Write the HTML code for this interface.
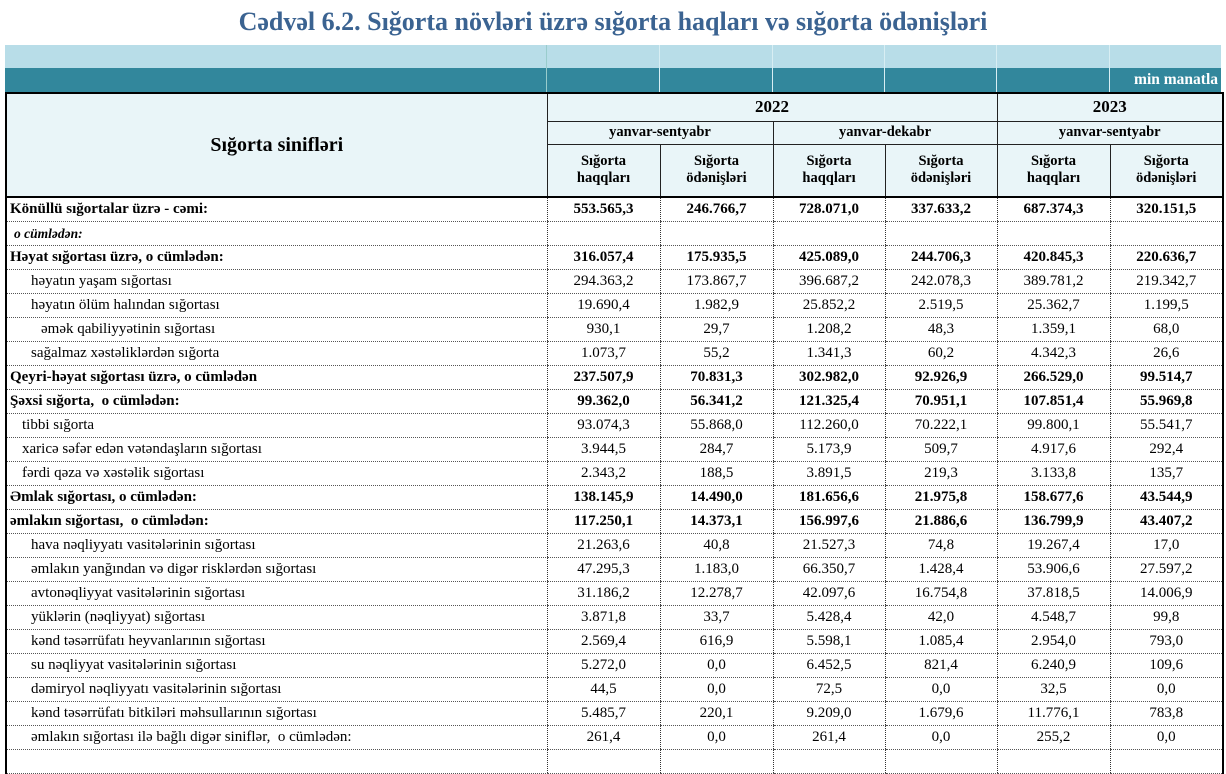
<!DOCTYPE html>
<html><head><meta charset="utf-8"><style>
body{margin:0;width:1226px;height:753px;overflow:hidden;background:#fff;font-family:"Liberation Serif",serif;position:relative}
.title{position:absolute;left:0;top:0;width:1226px;height:44px;text-align:center;font-weight:bold;font-size:26px;line-height:44px;color:#3b6391;}
.lb{position:absolute;left:5px;top:45px;width:1216px;height:23px;background:#b8dde8}
.tl{position:absolute;left:5px;top:68px;width:1216px;height:24px;background:#32879c;color:#fff;font-weight:bold;font-size:15.5px}
.vl{position:absolute;width:1px;background:#d8eef3}
table{position:absolute;left:5px;top:92px;border-collapse:collapse;table-layout:fixed;width:1217px;font-size:15px}
td{padding:0 3px;overflow:hidden;white-space:nowrap;border-left:1px dotted #333;border-bottom:1px dotted #555}
thead td{background:#e9f5f8;border:1px solid #222;text-align:center;font-weight:bold;font-size:14.5px}
tbody td{height:23px;text-align:center}
tbody td:first-child{text-align:left;border-left:2px solid #000}
tbody td:last-child{border-right:2px solid #000}
.b td{font-weight:bold}
.i1 td:first-child{padding-left:15px}
.i2 td:first-child{padding-left:24px}
.i3 td:first-child{padding-left:34px}
</style></head><body>
<div class="title">Cədvəl 6.2. Sığorta növləri üzrə sığorta haqları və sığorta ödənişləri</div>
<div class="lb"></div>
<div class="tl"><span style="position:absolute;right:3px;top:3px">min manatla</span></div>
<div class="vl" style="left:546px;top:45px;height:47px;background:#9cc"></div>
<div class="vl" style="left:659px;top:45px;height:47px"></div>
<div class="vl" style="left:772px;top:45px;height:47px"></div>
<div class="vl" style="left:884px;top:45px;height:47px"></div>
<div class="vl" style="left:996px;top:45px;height:47px"></div>
<div class="vl" style="left:1109px;top:45px;height:47px"></div>
<table>
<colgroup><col style="width:541px"><col style="width:113px"><col style="width:113px"><col style="width:112px"><col style="width:112px"><col style="width:113px"><col style="width:113px"></colgroup>
<thead>
<tr style="height:28px;border-top:2px solid #000"><td rowspan="3" style="font-size:20px;border-left:2px solid #000">Sığorta sinifləri</td><td colspan="4" style="font-size:17px">2022</td><td colspan="2" style="font-size:17px;border-right:2px solid #000">2023</td></tr>
<tr style="height:23px"><td colspan="2">yanvar-sentyabr</td><td colspan="2">yanvar-dekabr</td><td colspan="2" style="border-right:2px solid #000">yanvar-sentyabr</td></tr>
<tr style="height:53px;border-bottom:2px solid #000"><td>Sığorta<br>haqqları</td><td>Sığorta<br>ödənişləri</td><td>Sığorta<br>haqqları</td><td>Sığorta<br>ödənişləri</td><td>Sığorta<br>haqqları</td><td style="border-right:2px solid #000">Sığorta<br>ödənişləri</td></tr>
</thead>
<tbody>
<tr class="b"><td>Könüllü sığortalar üzrə - cəmi:</td><td>553.565,3</td><td>246.766,7</td><td>728.071,0</td><td>337.633,2</td><td>687.374,3</td><td>320.151,5</td></tr>
<tr><td style="font-style:italic;font-weight:bold;font-size:13.5px;padding-left:7px">o cümlədən:</td><td></td><td></td><td></td><td></td><td></td><td></td></tr>
<tr class="b"><td>Həyat sığortası üzrə, o cümlədən:</td><td>316.057,4</td><td>175.935,5</td><td>425.089,0</td><td>244.706,3</td><td>420.845,3</td><td>220.636,7</td></tr>
<tr class="i2"><td>həyatın yaşam sığortası</td><td>294.363,2</td><td>173.867,7</td><td>396.687,2</td><td>242.078,3</td><td>389.781,2</td><td>219.342,7</td></tr>
<tr class="i2"><td>həyatın ölüm halından sığortası</td><td>19.690,4</td><td>1.982,9</td><td>25.852,2</td><td>2.519,5</td><td>25.362,7</td><td>1.199,5</td></tr>
<tr class="i3"><td>əmək qabiliyyətinin sığortası</td><td>930,1</td><td>29,7</td><td>1.208,2</td><td>48,3</td><td>1.359,1</td><td>68,0</td></tr>
<tr class="i2"><td>sağalmaz xəstəliklərdən sığorta</td><td>1.073,7</td><td>55,2</td><td>1.341,3</td><td>60,2</td><td>4.342,3</td><td>26,6</td></tr>
<tr class="b"><td>Qeyri-həyat sığortası üzrə, o cümlədən</td><td>237.507,9</td><td>70.831,3</td><td>302.982,0</td><td>92.926,9</td><td>266.529,0</td><td>99.514,7</td></tr>
<tr class="b"><td>Şəxsi sığorta,&nbsp; o cümlədən:</td><td>99.362,0</td><td>56.341,2</td><td>121.325,4</td><td>70.951,1</td><td>107.851,4</td><td>55.969,8</td></tr>
<tr class="i1"><td>tibbi sığorta</td><td>93.074,3</td><td>55.868,0</td><td>112.260,0</td><td>70.222,1</td><td>99.800,1</td><td>55.541,7</td></tr>
<tr class="i1"><td>xaricə səfər edən vətəndaşların sığortası</td><td>3.944,5</td><td>284,7</td><td>5.173,9</td><td>509,7</td><td>4.917,6</td><td>292,4</td></tr>
<tr class="i1"><td>fərdi qəza və xəstəlik sığortası</td><td>2.343,2</td><td>188,5</td><td>3.891,5</td><td>219,3</td><td>3.133,8</td><td>135,7</td></tr>
<tr class="b"><td>Əmlak sığortası, o cümlədən:</td><td>138.145,9</td><td>14.490,0</td><td>181.656,6</td><td>21.975,8</td><td>158.677,6</td><td>43.544,9</td></tr>
<tr class="b"><td>əmlakın sığortası,&nbsp; o cümlədən:</td><td>117.250,1</td><td>14.373,1</td><td>156.997,6</td><td>21.886,6</td><td>136.799,9</td><td>43.407,2</td></tr>
<tr class="i2"><td>hava nəqliyyatı vasitələrinin sığortası</td><td>21.263,6</td><td>40,8</td><td>21.527,3</td><td>74,8</td><td>19.267,4</td><td>17,0</td></tr>
<tr class="i2"><td>əmlakın yanğından və digər risklərdən sığortası</td><td>47.295,3</td><td>1.183,0</td><td>66.350,7</td><td>1.428,4</td><td>53.906,6</td><td>27.597,2</td></tr>
<tr class="i2"><td>avtonəqliyyat vasitələrinin sığortası</td><td>31.186,2</td><td>12.278,7</td><td>42.097,6</td><td>16.754,8</td><td>37.818,5</td><td>14.006,9</td></tr>
<tr class="i2"><td>yüklərin (nəqliyyat) sığortası</td><td>3.871,8</td><td>33,7</td><td>5.428,4</td><td>42,0</td><td>4.548,7</td><td>99,8</td></tr>
<tr class="i2"><td>kənd təsərrüfatı heyvanlarının sığortası</td><td>2.569,4</td><td>616,9</td><td>5.598,1</td><td>1.085,4</td><td>2.954,0</td><td>793,0</td></tr>
<tr class="i2"><td>su nəqliyyat vasitələrinin sığortası</td><td>5.272,0</td><td>0,0</td><td>6.452,5</td><td>821,4</td><td>6.240,9</td><td>109,6</td></tr>
<tr class="i2"><td>dəmiryol nəqliyyatı vasitələrinin sığortası</td><td>44,5</td><td>0,0</td><td>72,5</td><td>0,0</td><td>32,5</td><td>0,0</td></tr>
<tr class="i2"><td>kənd təsərrüfatı bitkiləri məhsullarının sığortası</td><td>5.485,7</td><td>220,1</td><td>9.209,0</td><td>1.679,6</td><td>11.776,1</td><td>783,8</td></tr>
<tr class="i2"><td>əmlakın sığortası ilə bağlı digər siniflər,&nbsp; o cümlədən:</td><td>261,4</td><td>0,0</td><td>261,4</td><td>0,0</td><td>255,2</td><td>0,0</td></tr>
<tr><td></td><td></td><td></td><td></td><td></td><td></td><td></td></tr>
</tbody></table>
</body></html>
